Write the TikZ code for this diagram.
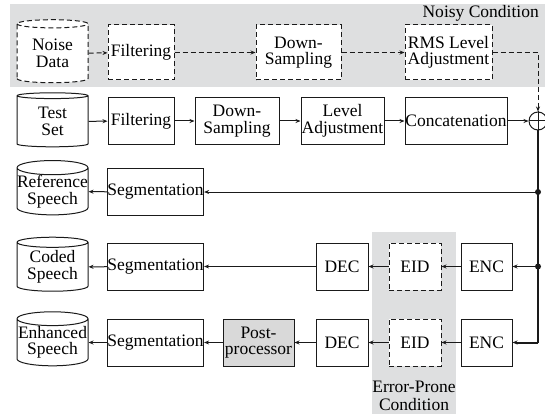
\documentclass[tikz,border=0pt]{standalone}
\usepackage{fontspec}
\setmainfont{Liberation Serif}
\usepackage{xcolor}
\definecolor{areaGray}{HTML}{DEDFE0}
\definecolor{postGray}{HTML}{D9D9D9}
\definecolor{lineDark}{HTML}{1A1A1A}
\usetikzlibrary{shapes.geometric,arrows.meta,positioning,backgrounds,calc}
\tikzset{
    block/.style={
        draw=lineDark,
        fill=white,
        rectangle,
        align=center,
        inner sep=0pt,
        minimum height=47pt,
        line width=1pt,
        font=\fontsize{17.5}{16.5}\selectfont
    },
    dashblock/.style={
        block,
        dash pattern=on 5pt off 3pt,
        minimum height=55pt
    },
    postblock/.style={
        block,
        fill=postGray
    },
    store/.style={
        draw=lineDark,
        fill=white,
        cylinder,
        shape border rotate=90,
        aspect=0.2,
        align=center,
        inner sep=0pt,
        minimum width=71pt,
        minimum height=54pt,
        line width=1pt,
        font=\fontsize{17.5}{16.5}\selectfont
    },
    dashstore/.style={
        store,
        dash pattern=on 5pt off 3pt,
        minimum height=63pt
    },
    arrow/.style={
        -{Stealth[length=5pt,width=4pt]},
        line width=1pt,
        color=lineDark
    },
    dasharrow/.style={
        arrow,
        dash pattern=on 5pt off 3pt
    },
    busline/.style={
        line width=2pt,
        color=lineDark
    },
    note/.style={
        font=\fontsize{17.5}{17.5}\selectfont,
        align=center,
        inner sep=0pt
    }
}

\begin{document}
\begin{tikzpicture}[x=1pt,y=-1pt]
    \useasboundingbox (0,0) rectangle (545,414);

    % Condition areas
    \fill[areaGray] (10,4) rectangle (545,87);
    \fill[areaGray] (372,232) rectangle (456,414);
    \node[note, anchor=base east] (noisylbl) at (539,18) {Noisy Condition};
    \node[note] (errlbl) at (414,396) {Error-Prone\\Condition};

    % Noise path
    \node[dashstore] (noise) at (52.5,53.5) {Noise\\Data};
    \node[dashblock, minimum width=66pt] (nfilt) at (141,52.5) {Filtering};
    \node[dashblock, minimum width=85pt] (nds) at (298.5,52.5) {Down-\\Sampling};
    \node[dashblock, minimum width=87pt] (nrms) at (448.5,52.5) {RMS Level\\Adjustment};

    % Test path
    \node[store] (test) at (52.5,121.5) {Test\\Set};
    \node[block, minimum width=66pt] (filt) at (141,121) {Filtering};
    \node[block, minimum width=84pt] (ds) at (237,121) {Down-\\Sampling};
    \node[block, minimum width=83pt] (lvl) at (342.5,121) {Level\\Adjustment};
    \node[block, minimum width=102pt] (concat) at (456,121) {Concatenation};
    \node[circle, draw=lineDark, line width=1pt, fill=white, inner sep=0pt, minimum size=18pt] (sum) at (538,121) {};
    \draw[line width=1pt, color=lineDark] (sum.north) -- (sum.south) (sum.west) -- (sum.east);

    % Reference
    \node[store] (ref) at (52.5,191.5) {Reference\\Speech};
    \node[block, minimum width=95pt] (seg1) at (155.5,192) {Segmentation};

    % Coded
    \node[store] (coded) at (52.5,267) {Coded\\Speech};
    \node[block, minimum width=95pt] (seg2) at (155.5,266.5) {Segmentation};
    \node[block, minimum width=52pt] (dec1) at (342,266.5) {DEC};
    \node[dashblock, minimum width=52pt, minimum height=47pt] (eid1) at (415,266.5) {EID};
    \node[block, minimum width=51pt] (enc1) at (486.5,266.5) {ENC};

    % Enhanced
    \node[store] (enh) at (52.5,342.5) {Enhanced\\Speech};
    \node[block, minimum width=95pt] (seg3) at (155.5,342.5) {Segmentation};
    \node[postblock, minimum width=71pt] (post) at (258.5,342.5) {Post-\\processor};
    \node[block, minimum width=52pt] (dec2) at (342,342.5) {DEC};
    \node[dashblock, minimum width=52pt, minimum height=47pt] (eid2) at (415,342.5) {EID};
    \node[block, minimum width=51pt] (enc2) at (486.5,342.5) {ENC};

    % Connections
    \draw[dasharrow] (noise) -- (nfilt);
    \draw[dasharrow] (nfilt) -- (nds);
    \draw[dasharrow] (nds) -- (nrms);
    \draw[dasharrow] (nrms.east) -| (sum.north);

    \draw[arrow] (test) -- (filt);
    \draw[arrow] (filt) -- (ds);
    \draw[arrow] (ds) -- (lvl);
    \draw[arrow] (lvl) -- (concat);
    \draw[arrow] (concat) -- (sum);

    \coordinate (j1) at (sum.south |- seg1.east);
    \coordinate (j2) at (sum.south |- enc1.east);
    \coordinate (j3) at (sum.south |- enc2.east);
    \draw[busline] (sum.south) -- (j3);
    \fill[lineDark] (j1) circle (3pt);
    \fill[lineDark] (j2) circle (3pt);

    \draw[arrow] (j1) -- (seg1);
    \draw[arrow] (seg1) -- (ref);

    \draw[arrow] (j2) -- (enc1);
    \draw[arrow] (enc1) -- (eid1);
    \draw[arrow] (eid1) -- (dec1);
    \draw[arrow] (dec1) -- (seg2);
    \draw[arrow] (seg2) -- (coded);

    \draw[arrow, line width=2pt] (j3) -- (enc2);
    \draw[arrow] (enc2) -- (eid2);
    \draw[arrow] (eid2) -- (dec2);
    \draw[arrow] (dec2) -- (post);
    \draw[arrow] (post) -- (seg3);
    \draw[arrow] (seg3) -- (enh);
\end{tikzpicture}
\end{document}
